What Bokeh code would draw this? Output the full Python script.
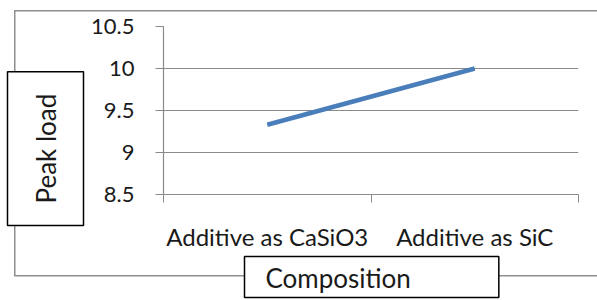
from bokeh.plotting import figure
from bokeh.models import (Range1d, LinearAxis, FixedTicker, NumeralTickFormatter, Title)
from bokeh.embed import file_html
from bokeh.resources import INLINE

categories = ["Additive as CaSiO3", "Additive as SiC"]
peak_load = [9.33, 10.0]
y_ticks = [8.5, 9.0, 9.5, 10.0, 10.5]
x_title = "Composition"
y_title = "Peak load"

FONT = "Lato"
TEXT = "#1a1a1a"
GRID = "#8a8a8a"
BORDER = "#8e8e8e"

n = len(categories)
centers = [i + 0.5 for i in range(n)]
edges = list(range(n + 1))

p = figure(width=597, height=300, output_backend="svg", toolbar_location=None,
           x_range=Range1d(0, n), y_range=Range1d(y_ticks[0], y_ticks[-1]),
           x_axis_location=None, y_axis_location="left",
           min_border_left=160, min_border_right=19, min_border_top=26, min_border_bottom=106)
p.outline_line_color = None
p.background_fill_color = "white"
p.border_fill_color = None
p.xgrid.grid_line_color = None
p.ygrid.grid_line_color = GRID
p.ygrid.grid_line_width = 1.2
p.ygrid.ticker = FixedTicker(ticks=y_ticks)

# outer chart border (drawn behind the canvas)
p.styles = {
    "background-color": "white",
    "background-image": ", ".join([f"linear-gradient({BORDER}, {BORDER})"] * 3),
    "background-size": "583px 1.5px, 1.5px 266px, 583px 1.5px",
    "background-position": "14px 10px, 14px 10px, 14px 275px",
    "background-repeat": "no-repeat",
}

ya = p.yaxis[0]
ya.ticker = FixedTicker(ticks=y_ticks)
ya.formatter = NumeralTickFormatter(format="0.[0]")
ya.axis_line_color = GRID
ya.axis_line_width = 1.2
ya.major_tick_line_color = GRID
ya.major_tick_out = 8
ya.major_tick_in = 0
ya.minor_tick_line_color = None
ya.major_label_standoff = 21
ya.major_label_text_font = FONT
ya.major_label_text_font_size = "22px"
ya.major_label_text_color = TEXT

# category boundary ticks
ta = LinearAxis(ticker=FixedTicker(ticks=edges),
                major_label_overrides={e: "" for e in edges})
ta.axis_line_color = GRID
ta.axis_line_width = 1.2
ta.major_tick_line_color = GRID
ta.major_tick_out = 8
ta.major_tick_in = 0
ta.minor_tick_line_color = None
ta.major_label_text_font_size = "1px"
ta.major_label_standoff = 0
p.add_layout(ta, "below")

# category labels
ca = LinearAxis(ticker=FixedTicker(ticks=centers),
                major_label_overrides={c: lab for c, lab in zip(centers, categories)})
ca.axis_line_color = None
ca.major_tick_line_color = None
ca.minor_tick_line_color = None
ca.major_label_standoff = 13
ca.major_label_text_font = FONT
ca.major_label_text_font_size = "24px"
ca.major_label_text_color = TEXT
p.add_layout(ca, "below")

p.line(centers, peak_load, line_color="#4A7EBB", line_width=4.5)

# axis titles in boxes
yt = Title(text=y_title, align="left", offset=-31, padding=22,
           text_font=FONT, text_font_size="26px", text_font_style="normal", text_color=TEXT,
           border_line_color="black", border_line_width=1.5, background_fill_color="white")
p.add_layout(yt, "left")

xt = Title(text=x_title, align="left", offset=81,
           text_font=FONT, text_font_size="26px", text_font_style="normal", text_color=TEXT,
           border_line_color="black", border_line_width=1.5, background_fill_color="white")
if "standoff" in Title.properties():
    xt.standoff = 2
try:
    xt.padding = dict(left=21, right=88, top=5, bottom=4)
except Exception:
    xt.padding = 5
p.add_layout(xt, "below")

open("out.html", "w").write(file_html(p, INLINE))
